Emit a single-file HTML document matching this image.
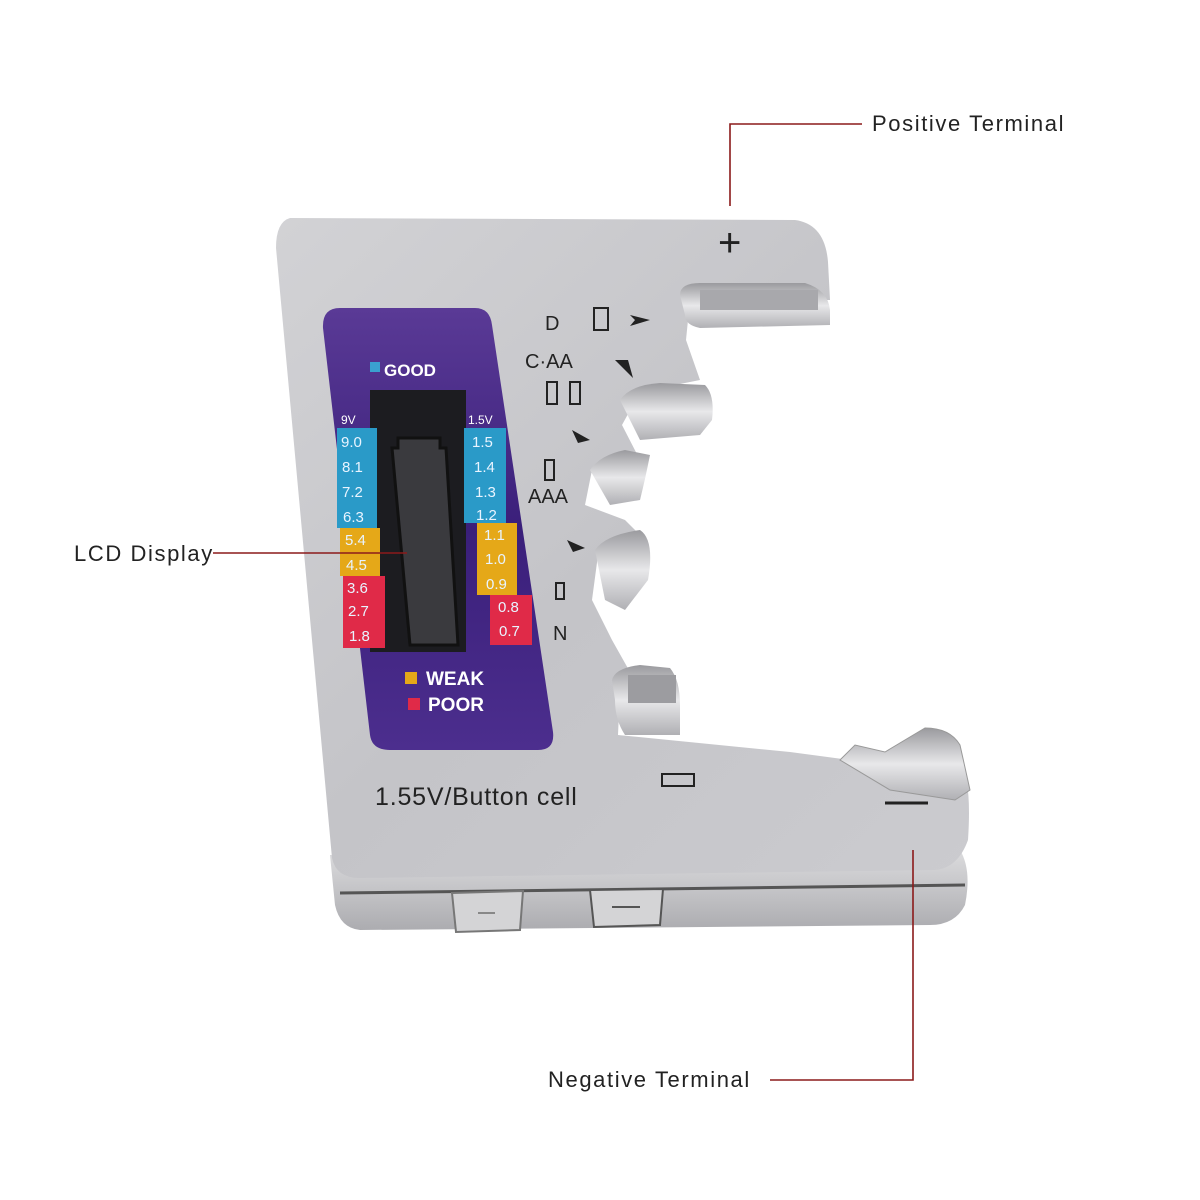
<!DOCTYPE html>
<html><head><meta charset="utf-8"><style>
html,body{margin:0;padding:0;background:#fff}
svg{display:block}
text{font-family:"Liberation Sans",sans-serif}
</style></head><body>
<svg width="1200" height="1200" viewBox="0 0 1200 1200" xmlns="http://www.w3.org/2000/svg">
<defs>
<linearGradient id="body" x1="0" y1="0" x2="1" y2="1">
<stop offset="0" stop-color="#d2d2d5"/><stop offset="0.5" stop-color="#c4c4c8"/><stop offset="1" stop-color="#cbcbcf"/>
</linearGradient>
<linearGradient id="side" x1="0" y1="0" x2="0" y2="1">
<stop offset="0" stop-color="#dcdcde"/><stop offset="1" stop-color="#acacb0"/>
</linearGradient>
<linearGradient id="metal" x1="0" y1="0" x2="0" y2="1">
<stop offset="0" stop-color="#9a9a9e"/><stop offset="0.5" stop-color="#e8e8ea"/><stop offset="1" stop-color="#b0b0b4"/>
</linearGradient>
<linearGradient id="purple" x1="0" y1="0" x2="0" y2="1">
<stop offset="0" stop-color="#5a3a96"/><stop offset="0.5" stop-color="#3a1f7a"/><stop offset="1" stop-color="#4c2e8e"/>
</linearGradient>
</defs>

<path d="M330,855 L960,850 Q972,870 965,905 Q955,925 930,925 L360,930 Q340,928 335,905 Z" fill="url(#side)"/>
<line x1="340" y1="893" x2="965" y2="885" stroke="#555" stroke-width="3"/>
<path d="M452,893 L523,891 L520,930 L456,932 Z" fill="#d4d4d6" stroke="#777" stroke-width="2"/>
<line x1="478" y1="913" x2="495" y2="913" stroke="#888" stroke-width="2"/>
<path d="M590,890 L663,889 L660,925 L594,927 Z" fill="#d4d4d6" stroke="#555" stroke-width="2"/>
<line x1="612" y1="907" x2="640" y2="907" stroke="#555" stroke-width="2"/>

<path d="M290,218 L795,220 Q825,224 828,262 L830,300 L690,300 L686,340 L700,380 L640,392 L622,425 L640,460 L592,470 L585,505 L625,520 L645,540 L598,555 L592,600 L612,640 L630,672 L620,690 L618,735 L790,752 L850,760 L960,765 Q972,780 968,840 Q958,868 935,870 L360,878 Q336,878 332,858 L276,248 Q276,222 290,218 Z" fill="url(#body)"/>

<path d="M680,295 Q680,283 700,283 L805,283 Q828,290 830,310 L830,325 L700,328 Q685,325 685,315 Z" fill="url(#metal)"/>
<rect x="700" y="290" width="118" height="20" fill="#a8a8ac"/>
<path d="M620,400 Q630,385 660,383 L705,385 Q715,395 712,420 L700,435 L640,440 Z" fill="url(#metal)"/>
<path d="M590,470 Q600,455 625,450 L650,455 Q645,480 640,500 L610,505 Z" fill="url(#metal)"/>
<path d="M595,550 Q605,535 640,530 Q655,540 648,580 L625,610 L605,600 Z" fill="url(#metal)"/>
<path d="M612,680 Q615,668 640,665 L670,668 Q680,680 680,705 L680,735 L625,735 Q615,720 615,700 Z" fill="url(#metal)"/>
<rect x="628" y="675" width="48" height="28" fill="#9c9ca0"/>
<path d="M840,760 L855,745 L885,752 L925,728 Q950,728 960,745 L970,790 L955,800 L890,790 Z" fill="url(#metal)" stroke="#999" stroke-width="1"/>

<path d="M340,308 L475,308 Q490,308 492,325 L553,732 Q555,750 538,750 L390,750 Q372,750 370,735 L323,328 Q322,308 340,308 Z" fill="url(#purple)"/>
<rect x="370" y="390" width="96" height="262" fill="#1c1c20"/>
<path d="M392,448 L398,448 L398,438 L440,438 L440,448 L446,448 L458,645 L410,645 Z" fill="#3a3a3e" stroke="#111" stroke-width="3"/>

<rect x="370" y="362" width="10" height="10" fill="#3aa0d0"/>
<text x="384" y="376" font-size="17" font-weight="bold" fill="#fff">GOOD</text>
<text x="341" y="424" font-size="12" fill="#fff">9V</text>
<text x="468" y="424" font-size="12" fill="#fff">1.5V</text>

<g font-size="15" fill="#e8f4ff">
<rect x="337" y="428" width="40" height="100" fill="#2a9ac8"/>
<rect x="340" y="528" width="40" height="48" fill="#e5a818"/>
<rect x="343" y="576" width="42" height="72" fill="#e02a48"/>
<text x="341" y="447">9.0</text><text x="342" y="472">8.1</text><text x="342" y="497">7.2</text><text x="343" y="522">6.3</text>
<text x="345" y="545">5.4</text><text x="346" y="570">4.5</text>
<text x="347" y="593">3.6</text><text x="348" y="616">2.7</text><text x="349" y="641">1.8</text>
<rect x="464" y="428" width="42" height="95" fill="#2a9ac8"/>
<rect x="477" y="523" width="40" height="72" fill="#e5a818"/>
<rect x="490" y="595" width="42" height="50" fill="#e02a48"/>
<text x="472" y="447">1.5</text><text x="474" y="472">1.4</text><text x="475" y="497">1.3</text><text x="476" y="520">1.2</text>
<text x="484" y="540">1.1</text><text x="485" y="564">1.0</text><text x="486" y="589">0.9</text>
<text x="498" y="612">0.8</text><text x="499" y="636">0.7</text>
</g>
<rect x="405" y="672" width="12" height="12" fill="#e5a818"/>
<text x="426" y="685" font-size="19" font-weight="bold" fill="#fff">WEAK</text>
<rect x="408" y="698" width="12" height="12" fill="#e02a48"/>
<text x="428" y="711" font-size="19" font-weight="bold" fill="#fff">POOR</text>

<g fill="#222" font-size="20">
<text x="545" y="330">D</text>
<text x="525" y="368">C·AA</text>
<text x="528" y="503">AAA</text>
<text x="553" y="640">N</text>
<text x="375" y="805" font-size="25" letter-spacing="0.8">1.55V/Button cell</text>
</g>
<g fill="none" stroke="#222" stroke-width="2">
<rect x="594" y="308" width="14" height="22"/>
<rect x="547" y="382" width="10" height="22"/><rect x="570" y="382" width="10" height="22"/>
<rect x="545" y="460" width="9" height="20"/>
<rect x="556" y="583" width="8" height="16"/>
<rect x="662" y="774" width="32" height="12"/>
</g>
<g fill="#222">
<path d="M630,315 L650,320 L630,326 L635,320 Z"/>
<path d="M615,360 L633,378 L628,360 Z"/>
<path d="M572,430 L590,440 L578,443 Z"/>
<path d="M567,540 L585,548 L573,552 Z"/>
</g>
<text x="718" y="256" font-size="40" fill="#222">+</text>
<line x1="885" y1="803" x2="928" y2="803" stroke="#222" stroke-width="3"/>

<g stroke="#8b1a1a" stroke-width="1.6" fill="none">
<polyline points="862,124 730,124 730,206"/>
<line x1="213" y1="553" x2="407" y2="553"/>
<polyline points="770,1080 913,1080 913,850"/>
</g>
<g font-size="22" fill="#222" letter-spacing="1.6">
<text x="872" y="131">Positive Terminal</text>
<text x="74" y="561">LCD Display</text>
<text x="548" y="1087">Negative Terminal</text>
</g>
</svg>
</body></html>
